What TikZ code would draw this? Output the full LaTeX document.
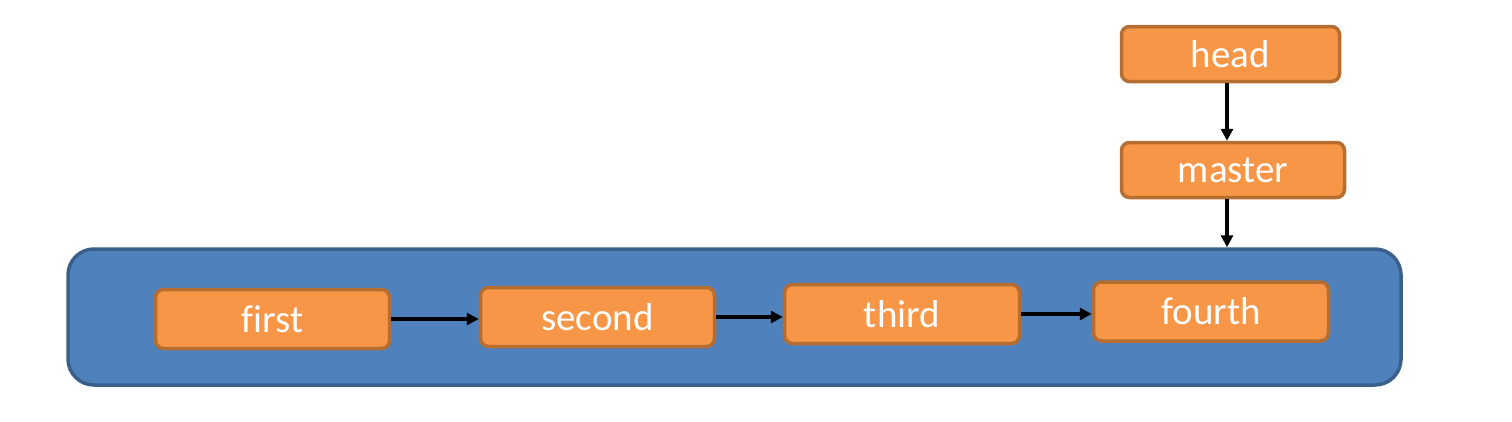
\documentclass[tikz,border=0pt]{standalone}
\usepackage{fontspec}
\setmainfont[Ligatures=NoCommon]{Carlito}
\usetikzlibrary{arrows.meta,calc}
\definecolor{boxfill}{HTML}{F79646}
\definecolor{boxline}{HTML}{B66D31}
\definecolor{bigfill}{HTML}{4F81BD}
\definecolor{bigline}{HTML}{3A5F8B}
\tikzset{
  obox/.style={draw=boxline, fill=boxfill, line width=3.5pt, rounded corners=8pt,
    minimum height=59pt, inner sep=0pt, text=white,
    font=\fontsize{39}{42}\selectfont},
  conn/.style={line width=3.5pt, -{Triangle[length=12pt,width=12pt]}}
}
\begin{document}
\begin{tikzpicture}[x=1pt,y=-1pt]
\useasboundingbox (0,0) rectangle (1512,421);
\node[draw=bigline, fill=bigfill, line width=3.5pt, rounded corners=26pt,
  minimum width=1333pt, minimum height=136pt, inner sep=0pt] (group) at (734.5,317) {};
\node[obox, minimum width=234pt] (first) at (272.5,319) {first};
\node[obox, minimum width=234pt] (second) at (597.5,317) {second};
\node[obox, minimum width=235pt] (third) at (902,314) {third};
\node[obox, minimum width=235pt] (fourth) at (1211,311.5) {fourth};
\node[obox, minimum width=218pt, minimum height=55pt] (head) at (1230.5,54) {head};
\node[obox, minimum width=223pt, minimum height=55pt] (master) at (1233,170) {master};
\coordinate (hs) at (1227,83);
\coordinate (ms) at (1227,199);
\draw[conn] (first.east) -- (first.east -| second.west);
\draw[conn] (second.east) -- (second.east -| third.west);
\draw[conn] (third.east) -- (third.east -| fourth.west);
\draw[conn] (hs) -- (hs |- master.north);
\draw[conn] (ms) -- (ms |- group.north);
\end{tikzpicture}
\end{document}
